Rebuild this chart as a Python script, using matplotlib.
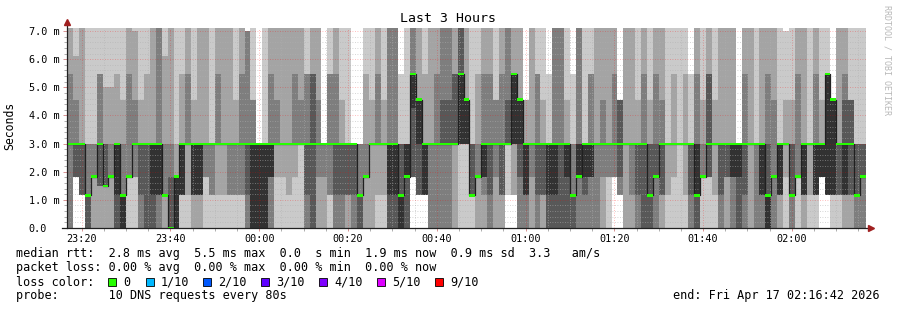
import numpy as np
import matplotlib
matplotlib.use("Agg")
import matplotlib.pyplot as plt
from matplotlib.patches import Rectangle

# ping levels seen in the graph (ms), one letter each
levels = {"0": 0.0, "a": 1.16, "b": 1.5, "c": 1.83, "d": 2.98, "x": 4.27,
          "e": 4.56, "f": 5.0, "g": 5.47, "h": 6.1, "i": 7.0, "T": 8.0}

# 10 pings per 80 s step (135 steps, 23:16:42 -> 02:16:42)
smoke = [
    "000ddddgTT", "ccccdddehT", "aaaaddddTT", "0000aaaddT", "00cccccddT", "00bbdddggT",
    "00bbbbddfT", "00cccccdfT", "0000adddgT", "00000aadeT", "0ccccccgTT", "0ccddddeiT",
    "000addddeT", "0000ddddgT", "0000adddTT", "000aaddTTT", "00aaaaadhT", "000000cdTT",
    "00000cccdT", "0aaaadddgT", "0adddddgTT", "00aaadddeT", "00aaadddTT",
    "0ccdddddTT", "0aaddddddT", "0adddddgTT", "0addddddTT", "0aadddddTT", "0aadddddeT",
    "0aaddddgTT", "000adddiii", "00000ddeeT", "00000ddddd", "00000ddddT", "000ccddgTT",
    "0cdddddeTT", "0cddddddTT", "0addddddTT", "0cdddddgTT", "0ddddddeTT", "000adddggT",
    "0000ddggTT", "00cddddeTT", "00cddddddd", "0aaddddggT",
    "000adddgTT", "000addddeT", "00aadddddT", "000adddddd", "0000aaaddd", "00cccccdgT",
    "00ddddddeT", "0adddddgTT", "0addddddeT", "0000addTTT", "0000addTTT", "00000adddg",
    "0000cddddT", "ccccxggTTT", "aaaadeeeTT", "aaaaadddgT", "000dddddTT", "000ddddgTT",
    "000dddeTTT", "000dddeTTT", "00ddddggTT", "0ddddgTTTT", "0ddddeeeTT",
    "0aaaaadddT", "00cccccdgT", "00accddgTT", "000adddgTT", "00cddddeeT", "00aadddgTT",
    "adddddeTTT", "aadddgggTT", "000cdeeeTT", "000aadddee", "00cdddddTT", "000adddggT",
    "00aaddddeT", "0000addddg", "0000addTTT", "0000dddTTT", "0000cdddeT", "0000aaaddg",
    "000ccddTTT", "000acddddT", "000ccddggT", "000dddddTT",
    "00cddddeTT", "0ccdddddTT", "cccddddgTT", "aaacddeeee", "00ddddddTT", "00adddddTT",
    "000addddeT", "0000dddgTT", "0000aaddeT", "000cccdgTT", "00aadddeTT", "0adddddddT",
    "0cddddddgT", "0ddddddddT", "0addddddgT", "000adddddg", "0000addgTT", "0ccccccdeT",
    "0cccddggTT", "0addddddeT", "000addddTT", "00ccddddTT", "000ccdddTT",
    "0000cddddd", "000adddgTT", "00ddddddTT", "000ddddddT", "000aadddTT", "00000adgTT",
    "000cccceTT", "00aaaddddT", "0cddddddei", "000aaaddeT", "0ccccccgTT", "00aaadddTT",
    "0adddddddT", "0aaaaddgTT", "cccccdddeT", "aaaaaggggT", "0aaaaeeeee", "0aaaddddTT",
    "00aaadegTT", "00aaddeeeT", "000aaadddT", "000cccdddT",
]

median_codes = ("dddacdbcdacddddda0cdddd"
                "dddddddddddddddddddddd"
                "ddddacdddddacgeddddddge"
                "acdddddgeddddddddacddd"
                "ddddddddacddddddacddddd"
                "dddddacddacddddgedddac")

time_labels = ["23:20", "23:40", "00:00", "00:20", "00:40", "01:00", "01:20", "01:40", "02:00"]
y_labels = ["0.0", "1.0 m", "2.0 m", "3.0 m", "4.0 m", "5.0 m", "6.0 m", "7.0 m"]

loss_names = ["0", "1/10", "2/10", "3/10", "4/10", "5/10", "9/10"]
loss_colors = ["#26ff00", "#00b8ff", "#0059ff", "#5e00ff", "#7e00ff", "#dd00ff", "#ff0000"]

W, H = 897, 310
mono = "DejaVu Sans Mono"
plt.rcParams["font.family"] = mono


def px(x, y):
    return x / W, 1 - y / H


fig = plt.figure(figsize=(W / 100, H / 100), dpi=100)
ax = fig.add_axes([67 / W, 1 - 228 / H, 799 / W, 200 / H])

vals = np.sort(np.array([[levels[ch] for ch in col] for col in smoke]), axis=1)
n = len(smoke)
span = 180.0
edges = np.linspace(0, span, n + 1)

shades = ["#cacaca", "#a4a4a4", "#7e7e7e", "#585858", "#323232"]
for i, shade in enumerate(shades):
    lo = np.append(vals[:, i], vals[-1, i])
    hi = np.append(vals[:, 9 - i], vals[-1, 9 - i])
    ax.fill_between(edges, lo, hi, step="post", color=shade, lw=0,
                    antialiased=False, zorder=1)

med = np.array([levels[ch] for ch in median_codes])
m = np.append(med, med[-1])
ax.step(edges, m, where="post", color="#202020", lw=0.9, zorder=3)
dh = 0.045
ax.fill_between(edges, m - dh, m + dh, step="post", color="#26ff00", lw=0,
                antialiased=False, zorder=4)

ax.set_xlim(0, span)
ax.set_ylim(0, 7.107)

first = 3.3  # 23:20 is 3.3 min after the start
major_x = first + 20 * np.arange(len(time_labels))
minor_x = np.arange(first, span, 5.0)
ax.set_xticks(major_x)
ax.set_xticklabels(time_labels, fontsize=7.3)
ax.set_xticks(minor_x, minor=True)
ax.set_yticks(np.arange(len(y_labels)))
ax.set_yticklabels(y_labels, fontsize=7.3)
ax.set_yticks(np.arange(0, 7.01, 0.2), minor=True)
for lab in ax.get_yticklabels():
    lab.set_horizontalalignment("left")

ax.set_axisbelow(False)
ax.grid(which="minor", color="#b0b0b0", alpha=0.7, lw=0.6, ls=(0, (1, 2)))
ax.grid(which="major", color="#ff0000", alpha=0.35, lw=0.6, ls=(0, (1, 2)))

ax.tick_params(axis="y", which="major", length=3, width=0.6, color="#d08080", pad=24.5)
ax.tick_params(axis="y", which="minor", length=2, width=0.6, color="#a0a0a0")
ax.tick_params(axis="x", which="major", length=2.5, width=0.6, color="#d08080", pad=2)
ax.tick_params(axis="x", which="minor", length=2, width=0.6, color="#a0a0a0")
for s in ax.spines.values():
    s.set_visible(False)

# axis lines with arrows
ax.plot([0, 0], [0, 1.03], transform=ax.transAxes, color="#202020", lw=0.9,
        clip_on=False, zorder=5)
ax.plot([-0.006, 1.004], [0, 0], transform=ax.transAxes, color="#202020", lw=0.9,
        clip_on=False, zorder=5)
ax.plot([0], [1.03], marker="^", ms=4, color="#a02020", transform=ax.transAxes,
        clip_on=False, zorder=6)
ax.plot([1.006], [0], marker=">", ms=4, color="#a02020", transform=ax.transAxes,
        clip_on=False, zorder=6)

fig.text(*px(448, 19), "Last 3 Hours", fontsize=9.5, ha="center", va="center")
fig.text(*px(10, 126), "Seconds", fontsize=8.3, rotation=90, ha="center", va="center")
fig.text(*px(887, 60), "RRDTOOL / TOBI OETIKER", fontsize=6, rotation=270,
         color="#b8b8b8", ha="center", va="center")

fs = 8.5
fig.text(*px(16, 254), "median rtt:  2.8 ms avg  5.5 ms max  0.0  s min  1.9 ms now  0.9 ms sd  3.3   am/s",
         fontsize=fs, va="center")
fig.text(*px(16, 268), "packet loss: 0.00 % avg  0.00 % max  0.00 % min  0.00 % now",
         fontsize=fs, va="center")
fig.text(*px(16, 282), "loss color:", fontsize=fs, va="center")
box_x = [108, 146, 203, 261, 319, 377, 435]
for bx, name, col in zip(box_x, loss_names, loss_colors):
    fig.add_artist(Rectangle(px(bx, 286), 8 / W, 8 / H, transform=fig.transFigure,
                             facecolor=col, edgecolor="black", lw=0.6))
    fig.text(*px(bx + 15, 282), name, fontsize=fs, va="center")
fig.text(*px(16, 296), "probe:       10 DNS requests every 80s", fontsize=fs, va="center")
fig.text(*px(880, 296), "end: Fri Apr 17 02:16:42 2026", fontsize=fs, va="center", ha="right")

fig.savefig("out.png", dpi=100)
plt.close(fig)
